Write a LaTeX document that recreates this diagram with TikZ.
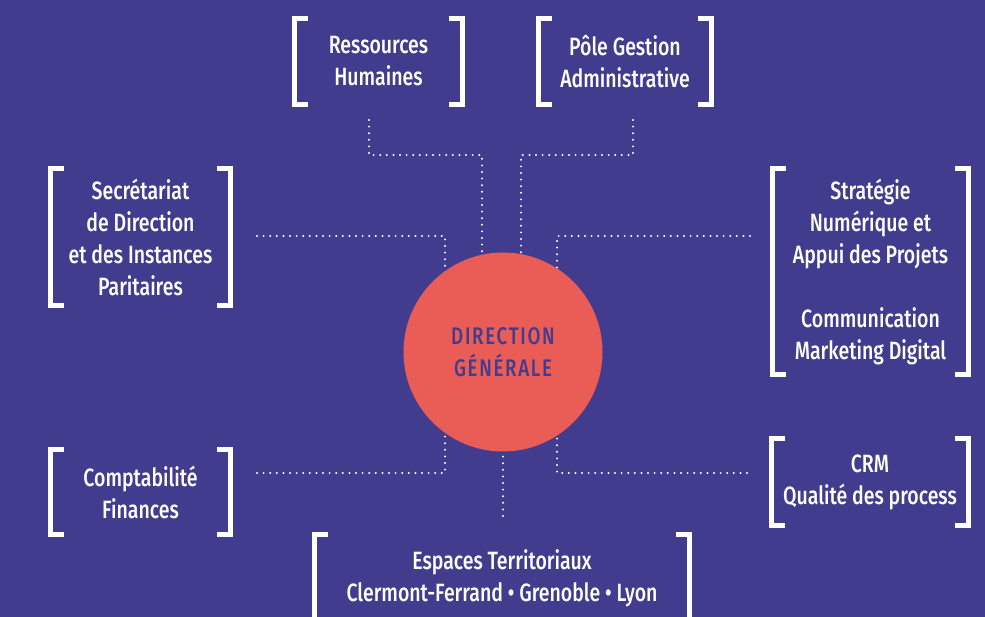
\documentclass[tikz,border=0pt]{standalone}
\usepackage{fontspec}
\setmainfont{Fira Sans Medium}[FakeStretch=0.78]
\newfontfamily\dgfont{Fira Sans Medium}[FakeStretch=0.78,LetterSpace=7]
\usetikzlibrary{calc}
\definecolor{bgpurple}{HTML}{413C8E}
\definecolor{coral}{HTML}{EA5C56}
\tikzset{
  box/.style={inner sep=0pt, align=center, text=white, font=\fontsize{25}{32}\selectfont},
  brk/.style={draw=white, line width=5pt, line join=miter, line cap=butt},
  dots/.style={draw=white, line width=2.2pt, line cap=round, dash pattern=on 0pt off 6.6pt},
}
\newcommand{\brackets}[1]{%
  \draw[brk] ($(#1.north west)+(14,0)$) -- (#1.north west) -- (#1.south west) -- ($(#1.south west)+(14,0)$);
  \draw[brk] ($(#1.north east)+(-14,0)$) -- (#1.north east) -- (#1.south east) -- ($(#1.south east)+(-14,0)$);
}
\begin{document}
\begin{tikzpicture}[x=1pt,y=-1pt]
\fill[bgpurple] (0,0) rectangle (985,617);
\useasboundingbox (0,0) rectangle (985,617);
\coordinate (c) at (503,352);
% connector coordinates
\coordinate (rhp) at (369,120);
\coordinate (pgp) at (633,120);
\coordinate (secp) at (257,236);
\coordinate (strp) at (750,236);
\coordinate (cmpp) at (257,473);
\coordinate (crmp) at (747,473);
\coordinate (espp) at (503,516);
% connectors (drawn beneath the circle)
\draw[dots] (rhp) |- (482,155) -- (482,352);
\draw[dots] (pgp) |- (521,155) -- (521,352);
\draw[dots] (secp) -- (445,236) -- (445,352);
\draw[dots] (strp) -- (557,236) -- (557,352);
\draw[dots] (cmpp) -- (445,473) -- (445,352);
\draw[dots] (crmp) -- (557,473) -- (557,352);
\draw[dots] (espp) -- (503,352);
% central circle
\node[circle, fill=coral, minimum size=199pt, inner sep=0pt, text=bgpurple, align=center,
      font=\dgfont\fontsize{24}{32}\selectfont] (dg) at (c) {DIRECTION\\GÉNÉRALE};
% boxes
\node[box, minimum width=168pt, minimum height=86pt] (rh) at (378.5,61.5) {Ressources\\Humaines};
\node[box, minimum width=173pt, minimum height=86pt] (pg) at (625,61.5) {Pôle Gestion\\Administrative};
\node[box, minimum width=180pt, minimum height=137pt] (sec) at (140.5,237) {Secrétariat\\de Direction\\et des Instances\\Paritaires};
\node[box, minimum width=196pt, minimum height=206pt] (str) at (870.5,271.5) {Stratégie\\Numérique et\\Appui des Projets\\[32pt]Communication\\Marketing Digital};
\node[box, minimum width=180pt, minimum height=85pt] (cmp) at (140.5,492) {Comptabilité\\Finances};
\node[box, minimum width=197pt, minimum height=87pt] (crm) at (870,482) {CRM\\Qualité des process};
\node[box, minimum width=375pt, minimum height=87pt] (esp) at (502,578) {Espaces Territoriaux\\Clermont-Ferrand • Grenoble • Lyon};
\brackets{rh}
\brackets{pg}
\brackets{sec}
\brackets{str}
\brackets{cmp}
\brackets{crm}
\brackets{esp}
\end{tikzpicture}
\end{document}
